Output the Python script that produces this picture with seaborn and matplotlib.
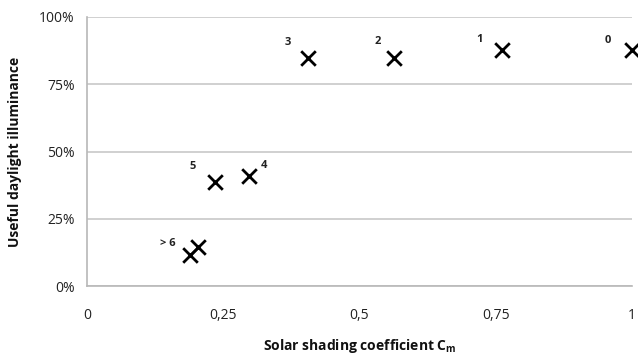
import matplotlib
matplotlib.use("Agg")
import matplotlib.pyplot as plt
import seaborn as sns
import pandas as pd

labels = ["0", "1", "2", "3", "4", "5", "> 6", ""]
cm = [1.0, 0.761, 0.563, 0.406, 0.297, 0.235, 0.189, 0.204]
udi = [0.877, 0.877, 0.848, 0.848, 0.409, 0.387, 0.115, 0.145]
label_offsets = [(-24, 10), (-22, 11), (-16, 16), (-21, 15), (15, 10), (-22, 15), (-22, 12), (0, 0)]

x_ticks = [0, 0.25, 0.5, 0.75, 1]
x_ticklabels = ["0", "0,25", "0,5", "0,75", "1"]
y_ticks = [0, 0.25, 0.5, 0.75, 1.0]
y_ticklabels = ["0%", "25%", "50%", "75%", "100%"]

df = pd.DataFrame({"cm": cm, "udi": udi, "label": labels})

sns.set_style("white")
plt.rcParams["font.family"] = ["Open Sans", "DejaVu Sans"]
plt.rcParams["mathtext.fontset"] = "custom"
plt.rcParams["mathtext.bf"] = "Open Sans:bold"
plt.rcParams["mathtext.rm"] = "Open Sans"

fig = plt.figure(figsize=(6.38, 3.58), dpi=100)
ax = fig.add_axes([87/638, 1-286/358, (632-87)/638, (286-17)/358])

sns.scatterplot(data=df, x="cm", y="udi", marker="x", s=110, color="black",
                linewidth=2.0, ax=ax, clip_on=False, zorder=5)

for xv, yv, lab, off in zip(cm, udi, labels, label_offsets):
    if lab:
        ax.annotate(lab, (xv, yv), xytext=off, textcoords="offset pixels",
                    ha="center", va="center", fontsize=8, fontweight="bold", color="#222222")

ax.set_xlim(0, 1)
ax.set_ylim(0, 1)
ax.set_xticks(x_ticks)
ax.set_xticklabels(x_ticklabels)
ax.set_yticks(y_ticks)
ax.set_yticklabels(y_ticklabels)
ax.yaxis.grid(True, color="#c8c8c8", linewidth=1.2)
ax.xaxis.grid(False)
for s in ["top", "right"]:
    ax.spines[s].set_visible(False)
for s in ["left", "bottom"]:
    ax.spines[s].set_color("#b8b8b8")
    ax.spines[s].set_linewidth(1.2)
ax.tick_params(axis="both", which="major", length=4, width=1.2, color="#b8b8b8",
               labelsize=10, labelcolor="#222222", direction="out")
ax.tick_params(axis="x", pad=12)
ax.tick_params(axis="y", pad=5)

ax.set_xlabel(r"Solar shading coefficient C$_{\mathbf{m}}$", fontsize=10, fontweight="bold",
              color="#111111", labelpad=10)
ax.set_ylabel("Useful daylight illuminance", fontsize=10, fontweight="bold", color="#111111",
              labelpad=12)

fig.savefig("out.png", dpi=100)
